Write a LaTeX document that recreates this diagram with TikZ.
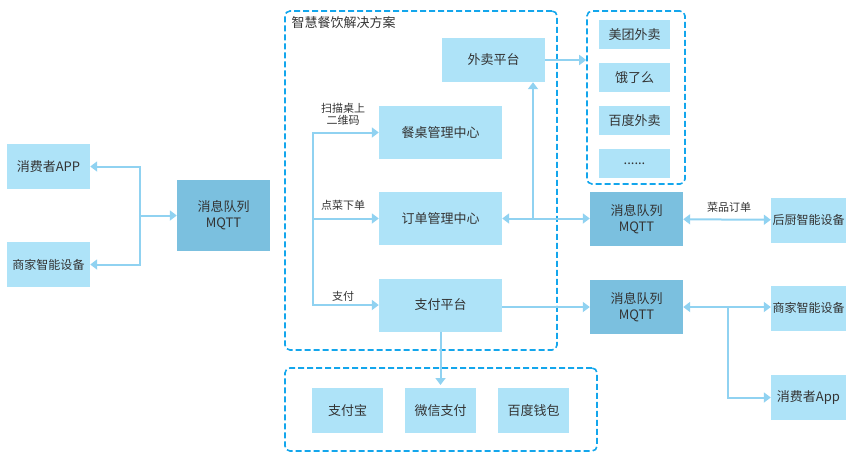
\documentclass[tikz,border=0pt]{standalone}
\usepackage{fontspec}
\setmainfont{Noto Sans CJK SC}
\usetikzlibrary{arrows.meta,positioning}
\definecolor{boxblue}{HTML}{AEE3F8}
\definecolor{mqblue}{HTML}{7BC0DF}
\definecolor{lineblue}{HTML}{90D2F1}
\definecolor{dashblue}{HTML}{13A6EC}
\definecolor{txtgray}{HTML}{333333}

\begin{document}
\begin{tikzpicture}[x=1pt,y=-1pt,
  >={Triangle[width=10pt,length=7pt]},
  box/.style={fill=boxblue,text=txtgray,inner sep=0pt,align=center,font=\fontsize{13}{16}\selectfont},
  device/.style={box,font=\fontsize{12}{15}\selectfont},
  mq/.style={box,fill=mqblue},
  link/.style={draw=lineblue,line width=2pt,->},
  area/.style={draw=dashblue,line width=1.6pt,dash pattern=on 6pt off 3pt,rounded corners=5pt},
  lbl/.style={text=txtgray,align=center,font=\fontsize{11}{12}\selectfont}]
\useasboundingbox (0,0) rectangle (864,472);
% dashed areas
\node[area,minimum width=272pt,minimum height=339pt] (sol) at (421,180.5) {};
\node[area,minimum width=98pt,minimum height=173pt] (dlv) at (636,97.5) {};
\node[area,minimum width=312pt,minimum height=83pt] (paybox) at (441,409.5) {};
\node[lbl,anchor=north west,font=\fontsize{13}{15}\selectfont] (title) at (288,13) {智慧餐饮解决方案};
% left side
\node[box,minimum width=83pt,minimum height=45pt] (app) at (48.5,166.5) {消费者APP};
\node[device,minimum width=83pt,minimum height=45pt] (shop) at (48.5,264.5) {商家智能设备};
\node[mq,minimum width=93pt,minimum height=71pt] (mq1) at (223.5,215.5) {消息队列\\MQTT};
% solution
\node[box,minimum width=103pt,minimum height=44pt] (waimai) at (493.5,60) {外卖平台};
\node[box,minimum width=123pt,minimum height=53pt] (table) at (440.5,132.5) {餐桌管理中心};
\node[box,minimum width=123pt,minimum height=53pt] (order) at (440.5,218.5) {订单管理中心};
\node[box,minimum width=123pt,minimum height=53pt] (pay) at (440.5,305) {支付平台};
% delivery platforms
\node[box,minimum width=71pt,minimum height=29pt] (mt) at (634.5,34.5) {美团外卖};
\node[box,minimum width=71pt,minimum height=29pt] (elm) at (634.5,77.5) {饿了么};
\node[box,minimum width=71pt,minimum height=29pt] (bdw) at (634.5,120.5) {百度外卖};
\node[box,minimum width=71pt,minimum height=29pt] (more) at (634.5,163.5) {......};
% payment channels
\node[box,minimum width=71pt,minimum height=45pt] (ali) at (347.5,410.5) {支付宝};
\node[box,minimum width=71pt,minimum height=45pt] (wx) at (440.5,410.5) {微信支付};
\node[box,minimum width=71pt,minimum height=45pt] (bdq) at (533.5,410.5) {百度钱包};
% right side
\node[mq,minimum width=93pt,minimum height=54pt] (mq2) at (636.5,219) {消息队列\\MQTT};
\node[mq,minimum width=93pt,minimum height=54pt] (mq3) at (636.5,307) {消息队列\\MQTT};
\node[device,minimum width=75pt,minimum height=45pt] (kitchen) at (808.5,220) {后厨智能设备};
\node[device,minimum width=75pt,minimum height=45pt] (shop2) at (808.5,308) {商家智能设备};
\node[box,minimum width=75pt,minimum height=45pt] (cons2) at (808.5,397.5) {消费者App};
% connectors
\coordinate (jl) at (140,215.5);
\draw[link] (jl) |- (app);
\draw[link] (jl) |- (shop);
\draw[link] (jl) -- (mq1);
\coordinate (jb) at (313,218.5);
\draw[link] (jb) |- (table);
\draw[link] (jb) -- (order);
\draw[link] (jb) |- (pay);
\node[lbl] (scan) at (343,114) {扫描桌上\\二维码};
\node[lbl] (dish) at (343,205) {点菜下单};
\node[lbl] (paylbl) at (343,296) {支付};
\draw[link,<->] (order.east) -- (order.east -| mq2.west);
\coordinate (jw) at (533,218.5);
\draw[link] (jw) -- (jw |- waimai.south);
\draw[link] (waimai.east) -- (waimai.east -| dlv.west);
\draw[link] (mq3.west -| pay.east) -- (mq3.west);
\coordinate (paytip) at (440.5,385);
\draw[link] (pay) -- (paytip);
\draw[link,<->] (mq2) -- (kitchen);
\node[lbl] (dishorder) at (729,207) {菜品订单};
\draw[link,<->] (mq3.east) -- (mq3.east -| shop2.west);
\coordinate (jr) at (728,307);
\draw[link] (jr) |- (cons2);
\end{tikzpicture}
\end{document}
